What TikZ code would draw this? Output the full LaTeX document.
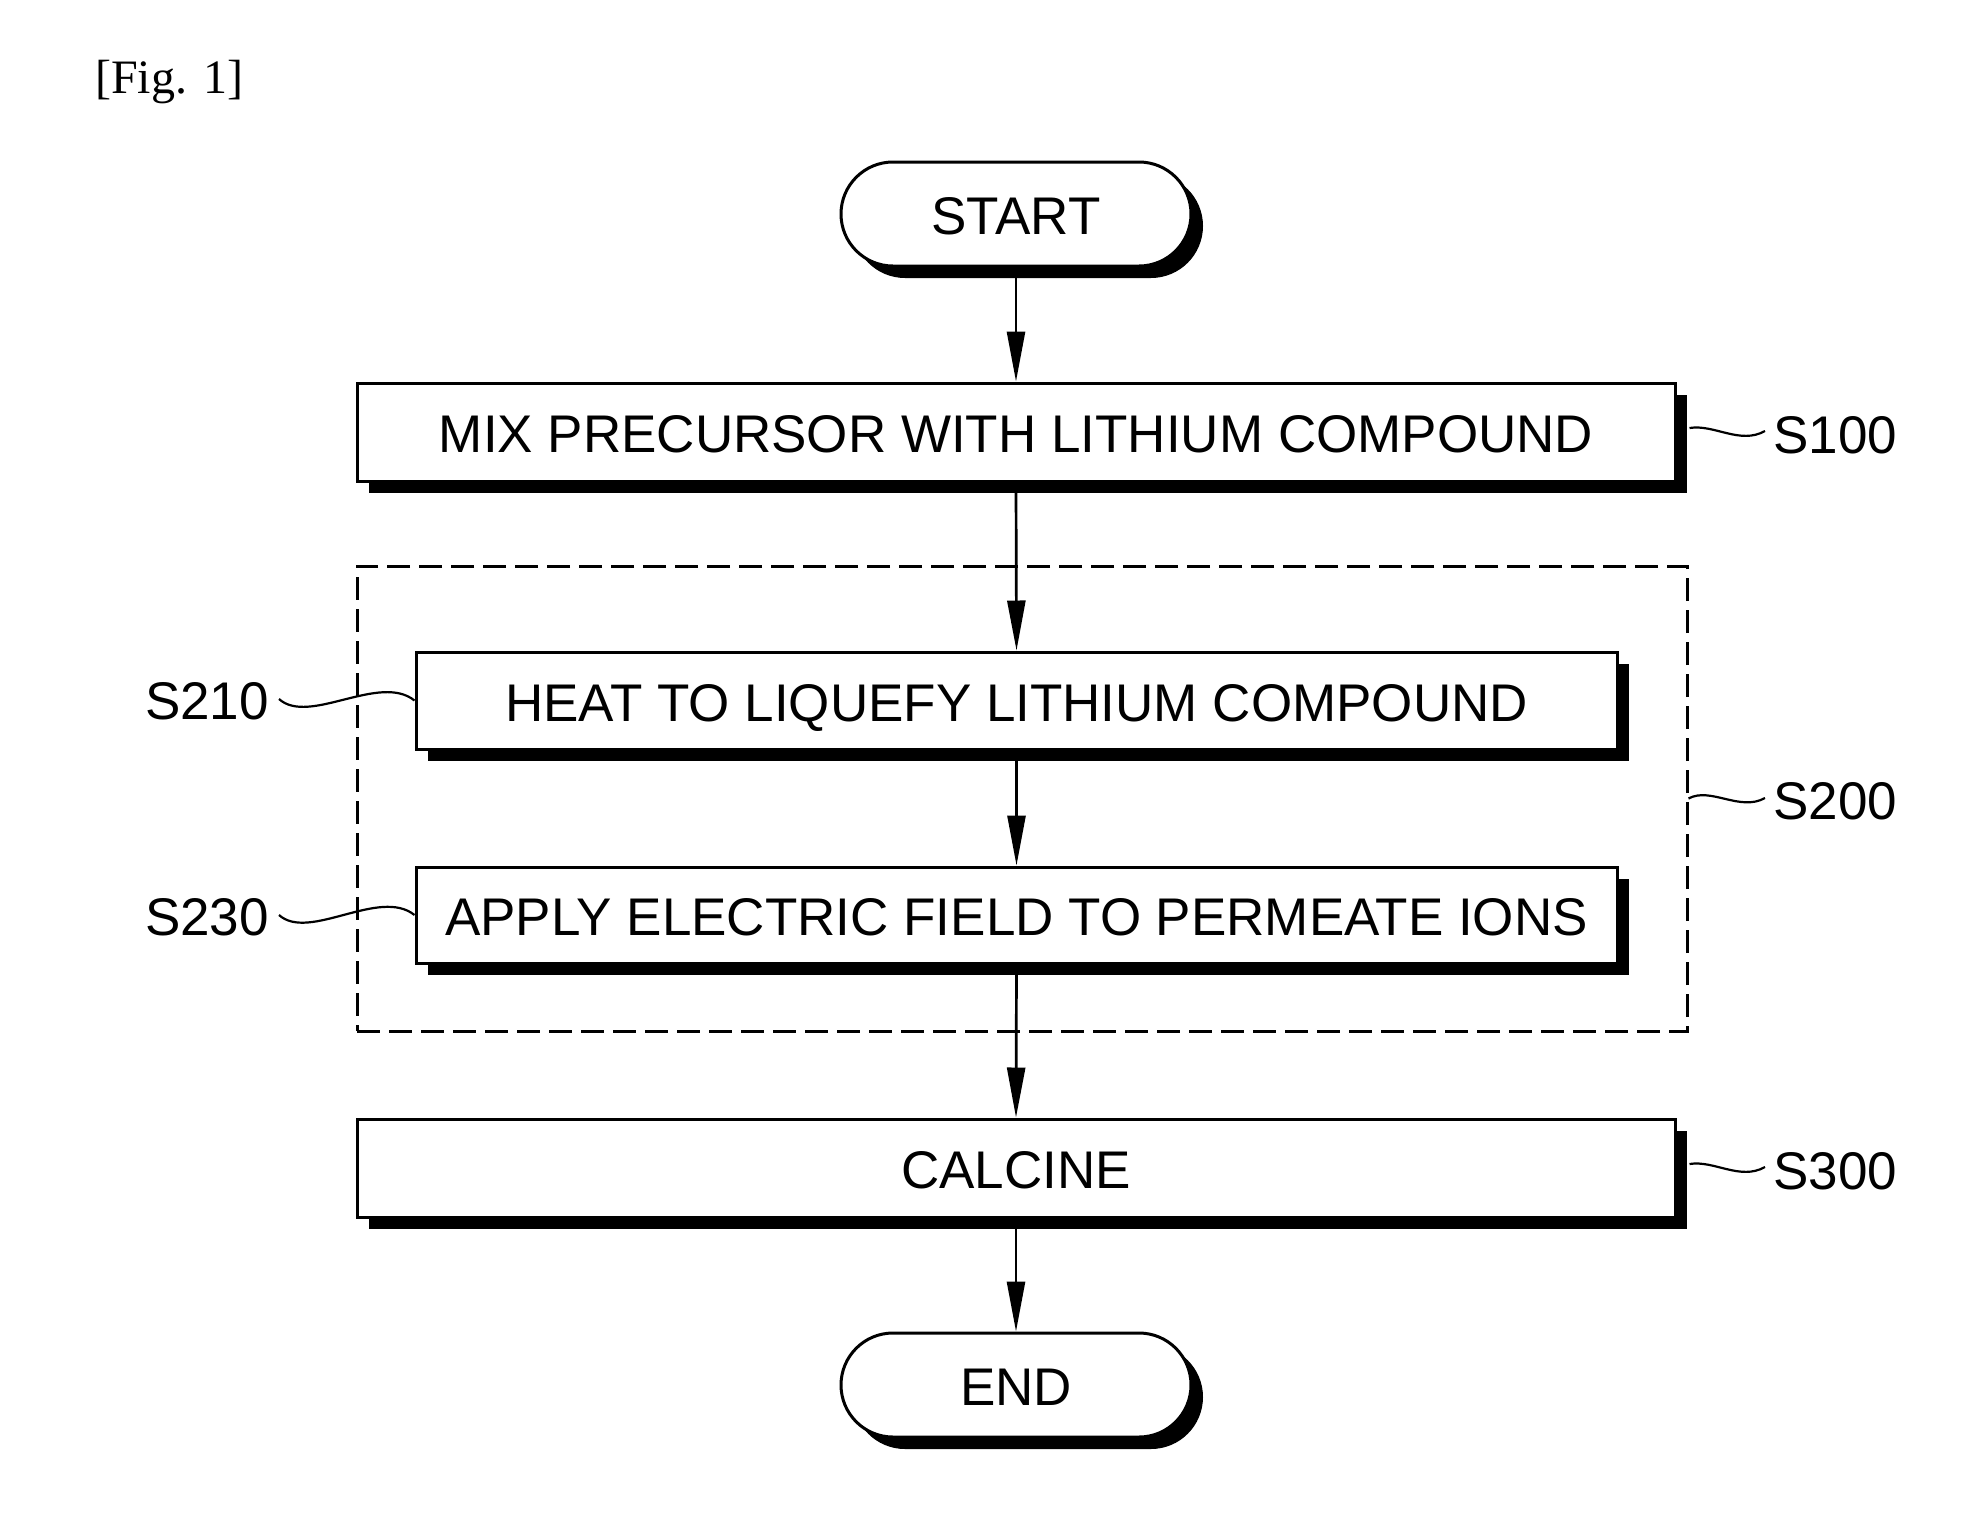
\documentclass[tikz,border=0pt]{standalone}
\usepackage{fontspec}
\setmainfont{Liberation Sans}
\newfontfamily\figfont{Liberation Serif}
\usetikzlibrary{arrows.meta,shapes.misc,shadows,calc}
\tikzset{
  base/.style={draw=black, line width=3pt, fill=white, inner sep=0pt,
    font=\fontsize{53}{60}\selectfont, text height=41pt, text depth=0pt,
    drop shadow={shadow xshift=12pt, shadow yshift=-12pt, opacity=1, fill=black}},
  stepbox/.style={base, rectangle, minimum height=98pt},
  term/.style={base, rounded rectangle, minimum width=350pt, minimum height=104pt},
  group/.style={draw=black, line width=3pt, dash pattern=on 23pt off 9pt, rectangle, inner sep=0pt},
  lbl/.style={inner sep=0pt, font=\fontsize{53}{60}\selectfont, text height=40pt, text depth=0pt},
  flow/.style={line width=2.7pt, -{Triangle[length=50pt, width=18pt]}},
  wave/.style={line width=2.2pt}
}
\begin{document}
\begin{tikzpicture}[x=1pt, y=-1pt]
\useasboundingbox (0,0) rectangle (1987,1529);
\node[anchor=west, inner sep=0pt, font=\figfont\fontsize{48}{56}\selectfont] (fig) at (95,82) {[Fig. 1]};

\node[group, minimum width=1330pt, minimum height=465pt] (grp) at (1022,798.5) {};

\node[term] (start) at (1016,214) {START};
\node[stepbox, minimum width=1318pt] (mix) at (1016,432) {MIX PRECURSOR WITH LITHIUM COMPOUND};
\node[stepbox, minimum width=1201pt, minimum height=97pt] (heat) at (1016.5,700.5) {HEAT TO LIQUEFY LITHIUM COMPOUND};
\node[stepbox, minimum width=1201pt, minimum height=96pt] (apply) at (1016.5,915) {APPLY ELECTRIC FIELD TO PERMEATE IONS};
\node[stepbox, minimum width=1318pt] (calc) at (1016,1168) {CALCINE};
\node[term] (end) at (1016,1385) {END};

\node[lbl, anchor=west] (s100) at (1773,433) {S100};
\node[lbl, anchor=west] (s200) at (1773,799) {S200};
\node[lbl, anchor=west] (s300) at (1773,1169) {S300};
\node[lbl, anchor=east] (s210) at (269,699) {S210};
\node[lbl, anchor=east] (s230) at (269,915) {S230};

\draw[flow] (start.south) -- (mix.north);
\draw[flow] (mix.south) -- (heat.north);
\draw[flow] (heat.south) -- (apply.north);
\draw[flow] (apply.south) -- (calc.north);
\draw[flow] (calc.south) -- (end.north);

\draw[wave] ($(mix.east)+(13,-4)$) .. controls +(25,-4) and +(-25,14) .. ($(s100.west)+(-8,-2)$);
\draw[wave] ($(calc.east)+(13,-4)$) .. controls +(25,-4) and +(-25,14) .. ($(s300.west)+(-8,-2)$);
\draw[wave] (grp.east) .. controls +(22,-12) and +(-25,14) .. ($(s200.west)+(-8,-1)$);
\draw[wave] ($(s210.east)+(10,0)$) .. controls +(30,27) and +(-35,-28) .. (heat.west);
\draw[wave] ($(s230.east)+(10,0)$) .. controls +(30,27) and +(-35,-28) .. (apply.west);
\end{tikzpicture}
\end{document}
